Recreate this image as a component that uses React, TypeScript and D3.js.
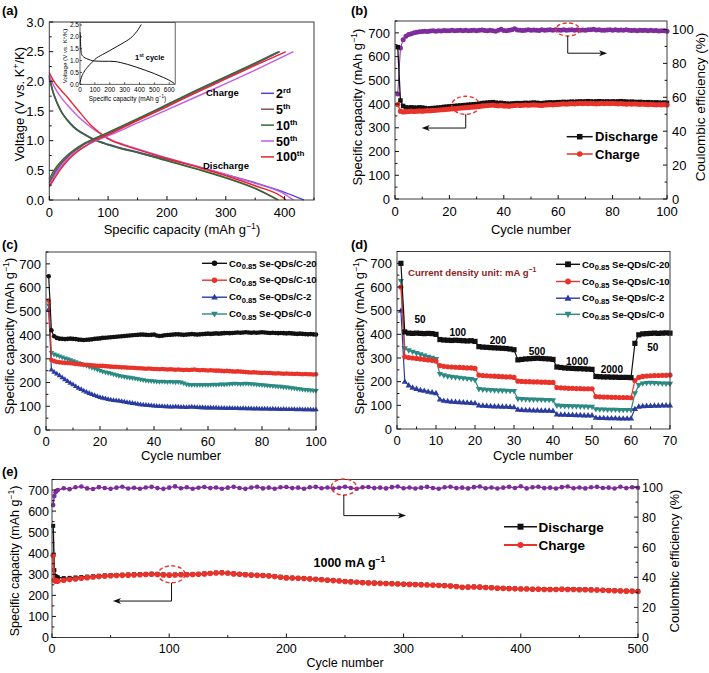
import React from 'react';
import * as d3 from 'd3';

const FONT = "'Liberation Sans', Arial, Helvetica, sans-serif";
const BLACK = '#111111';
const RED = '#e8322a';
const BLUE = '#2b3ca0';
const TEAL = '#2c8a84';
const PURPLE = '#7e2c9c';
const FRAME = '#3c3c3c';

type P = [number, number];

// ---------------- (a) galvanostatic profiles ----------------
const aLabels = ['2', '5', '10', '50', '100'];
const aSups = ['rd', 'th', 'th', 'th', 'th'];
const aColors = ['#5b40d8', '#8c5050', '#2f6b36', '#c35ce2', '#e8262a'];

const dis2: P[] = [[0,2.08],[3,1.95],[6,1.83],[10,1.72],[15,1.6],[20,1.5],[30,1.36],[40,1.25],[50,1.17],[60,1.11],[75,1.03],[100,0.94],[125,0.87],[150,0.81],[200,0.69],[250,0.57],[300,0.43],[350,0.29],[400,0.13],[433,0]];
const dis5: P[] = [[0,2.05],[3,1.93],[6,1.82],[10,1.71],[15,1.59],[20,1.49],[30,1.35],[40,1.24],[50,1.16],[60,1.1],[75,1.02],[100,0.93],[125,0.86],[150,0.8],[200,0.67],[250,0.53],[300,0.38],[350,0.2],[390,0]];
const dis10: P[] = [[0,2.1],[3,1.96],[6,1.84],[10,1.72],[15,1.6],[20,1.5],[30,1.35],[40,1.24],[50,1.16],[60,1.1],[75,1.02],[100,0.93],[125,0.86],[150,0.8],[200,0.66],[250,0.52],[300,0.37],[350,0.19],[388,0]];
const dis50: P[] = [[0,2.1],[5,1.98],[10,1.88],[20,1.73],[30,1.61],[40,1.5],[50,1.4],[60,1.31],[70,1.23],[80,1.16],[90,1.1],[100,1.04],[125,0.94],[150,0.86],[200,0.71],[250,0.57],[300,0.43],[350,0.28],[400,0.1],[415,0]];
const dis100: P[] = [[0,2.15],[5,2.05],[10,1.97],[20,1.85],[30,1.74],[40,1.62],[50,1.5],[60,1.38],[70,1.27],[80,1.18],[90,1.1],[100,1.03],[125,0.93],[150,0.85],[200,0.7],[250,0.56],[300,0.41],[350,0.24],[400,0.02],[402,0]];

const chg2: P[] = [[0,0.28],[5,0.37],[10,0.46],[20,0.6],[30,0.71],[40,0.8],[50,0.87],[60,0.94],[75,1.01],[100,1.12],[150,1.35],[200,1.59],[250,1.83],[300,2.06],[350,2.29],[392,2.5]];
const chg5: P[] = [[0,0.3],[5,0.4],[10,0.49],[20,0.62],[30,0.73],[40,0.81],[50,0.88],[60,0.95],[75,1.02],[100,1.13],[150,1.36],[200,1.6],[250,1.84],[300,2.07],[350,2.3],[388,2.49]];
const chg10: P[] = [[0,0.35],[5,0.45],[10,0.53],[20,0.65],[30,0.75],[40,0.83],[50,0.9],[60,0.96],[75,1.03],[100,1.14],[150,1.37],[200,1.61],[250,1.85],[300,2.08],[350,2.31],[390,2.5]];
const chg50: P[] = [[0,0.25],[5,0.33],[10,0.42],[20,0.56],[30,0.68],[40,0.77],[50,0.84],[60,0.9],[75,0.98],[100,1.08],[150,1.3],[200,1.52],[250,1.74],[300,1.96],[350,2.19],[415,2.5]];
const chg100: P[] = [[0,0.22],[5,0.3],[10,0.38],[20,0.53],[30,0.65],[40,0.75],[50,0.83],[60,0.9],[75,0.99],[100,1.1],[150,1.34],[200,1.57],[250,1.81],[300,2.04],[350,2.27],[402,2.5]];

const aDischarge = [dis2, dis5, dis10, dis50, dis100];
const aCharge = [chg2, chg5, chg10, chg50, chg100];

const inDis1: P[] = [[0,2.2],[2,2.1],[4,1.7],[7,1.4],[12,1.25],[25,1.15],[45,1.08],[70,1.02],[100,0.98],[150,0.97],[200,0.97],[235,0.96],[270,0.92],[320,0.84],[380,0.72],[440,0.59],[500,0.45],[560,0.29],[600,0.17],[635,0.03]];
const inChg1: P[] = [[0,0.08],[10,0.3],[25,0.5],[50,0.72],[80,0.92],[100,1.05],[150,1.25],[200,1.42],[250,1.6],[300,1.78],[350,2.0],[390,2.3],[412,2.52]];

// ---------------- (b) cycling at low rate ----------------
const bDischarge = [
  640,415,392,386,385,386,385,384,386,385,
  383,381,382,383,384,385,386,388,389,390,
  391,392,393,394,395,396,397,398,399,400,
  402,404,405,406,407,408,406,404,405,403,
  402,401,402,403,404,403,404,405,404,405,
  406,405,404,403,405,406,407,406,407,408,
  408,409,408,409,410,409,410,411,410,411,
  412,411,410,411,412,411,410,411,410,411,
  410,411,412,411,410,409,410,409,408,409,
  408,407,408,407,406,407,406,405,406,405];
const bCharge = [
  398,370,367,368,369,370,369,370,371,370,
  371,372,372,373,374,375,376,377,378,379,
  380,381,382,383,384,385,386,387,388,389,
  390,392,393,394,395,396,394,393,395,392,
  392,391,393,394,395,394,395,396,395,396,
  397,396,395,394,396,397,398,397,398,399,
  400,401,400,401,402,401,402,403,402,403,
  402,403,402,401,402,403,402,403,402,403,
  402,401,402,401,400,401,400,401,400,399,
  400,399,398,399,398,397,398,397,398,396];
const bCE = [
  62,89,94,96,97,97.5,98,98.3,98.6,98.8,
  99,98.8,99.1,99.2,99.0,99.3,99.1,99.4,99.2,99.3,
  99.5,99.2,99.4,99.6,99.3,99.5,99.2,99.4,99.6,99.3,
  99.5,99.7,99.4,99.2,99.5,99.3,98.9,99.6,100.2,99.4,
  99.3,99.6,99.8,100.4,99.7,99.5,99.4,99.6,99.8,99.5,
  99.7,99.6,99.4,99.8,99.5,99.7,99.9,99.6,99.8,99.7,
  99.6,99.8,99.5,99.7,99.9,99.6,99.8,99.5,99.7,99.6,
  99.8,99.9,100.1,99.7,99.8,99.6,99.5,99.7,99.9,99.6,
  99.8,99.5,99.7,99.6,99.8,99.5,99.4,99.6,99.3,99.5,
  99.4,99.6,99.3,99.5,99.2,99.4,99.1,99.3,99.2,99.0];

// ---------------- (c) samples cycling ----------------
const sampleNames = ['-20', '-10', '-2', '-0'];
const c20 = [
  648,420,395,388,385,384,383,384,385,384,
  383,381,380,379,380,381,382,384,385,386,
  388,389,390,391,392,393,394,395,396,397,
  398,399,400,401,402,402,401,400,401,402,
  398,396,397,399,400,401,402,403,403,402,
  401,402,403,404,403,402,403,404,405,406,
  405,406,407,406,407,408,409,408,409,410,
  411,410,411,412,411,410,411,410,411,412,
  411,410,409,410,409,408,409,408,407,408,
  407,406,405,406,405,404,403,404,403,402];
const c10 = [
  545,295,290,287,285,284,283,282,281,280,
  278,277,276,275,275,274,273,272,271,270,
  270,269,268,267,266,266,265,264,264,263,
  262,262,261,260,260,259,258,259,258,257,
  257,256,257,256,255,256,255,254,255,254,
  253,254,253,254,255,253,252,253,252,251,
  252,251,250,250,249,248,249,248,247,246,
  247,246,245,244,243,242,243,242,241,240,
  241,240,240,239,238,239,238,237,238,237,
  237,236,237,236,235,236,235,235,234,235];
const c2 = [
  510,255,245,238,230,222,214,206,199,192,
  185,178,172,166,161,156,151,147,143,139,
  136,133,130,128,126,125,124,122,120,118,
  116,114,112,110,108,107,106,105,104,103,
  102,101,101,100,100,99,99,100,99,98,
  98,97,98,99,98,97,96,96,95,95,
  95,94,94,93,93,93,92,93,92,92,
  92,91,92,91,91,91,90,91,90,90,
  90,90,89,90,89,89,88,89,88,88,
  88,88,87,88,87,87,87,87,86,87];
const c0 = [
  525,325,318,314,310,306,302,298,294,290,
  286,282,278,274,270,266,262,258,254,250,
  246,243,240,237,234,231,228,226,224,222,
  220,218,216,214,212,210,208,207,206,205,
  204,203,204,203,202,203,202,201,202,200,
  196,192,190,189,190,189,190,189,190,189,
  190,191,190,191,192,191,192,193,194,195,
  194,193,194,195,194,193,192,191,190,189,
  188,187,186,185,184,183,182,180,179,178,
  176,175,173,172,170,169,168,167,166,165];

// ---------------- (d) rate capability ----------------
const rateSteps = ['50', '100', '200', '500', '1000', '2000', '50'];
const rateLabelCycle = [5.9, 15.6, 25.9, 35.9, 46.2, 55.1, 65.6];
const rateLabelLevel = [448, 393, 359, 312, 270, 237, 328];
const d20 = [
  700,410,405,404,405,404,403,404,403,400,
  378,376,375,374,375,374,373,372,373,370,
  348,346,345,344,343,342,341,340,338,335,
  292,294,296,297,298,299,298,297,296,294,
  262,260,258,257,256,255,255,254,253,252,
  222,221,220,220,219,219,218,218,218,217,
  362,398,402,403,404,405,404,405,406,405];
const d10 = [
  600,305,302,300,298,296,294,292,290,287,
  268,265,263,262,261,260,259,258,258,256,
  228,226,225,224,223,222,221,220,220,218,
  202,201,200,200,199,199,198,198,197,197,
  175,174,173,172,172,171,171,170,170,170,
  137,136,135,135,134,134,133,133,133,132,
  205,218,222,224,225,226,226,227,227,228];
const d2 = [
  500,200,185,175,170,165,162,158,155,152,
  125,120,118,116,115,114,113,112,111,110,
  100,99,98,97,96,96,95,95,94,93,
  82,81,80,80,79,79,78,78,78,77,
  62,61,61,60,60,59,59,58,58,58,
  48,47,47,46,46,46,45,45,45,45,
  85,95,97,98,98,99,99,100,100,100];
const d0 = [
  625,340,332,326,320,315,310,305,300,295,
  232,226,222,220,218,216,214,212,210,206,
  168,166,165,164,163,162,162,161,160,160,
  127,126,125,124,124,123,123,122,122,121,
  98,97,96,96,95,95,94,94,93,93,
  83,82,82,81,81,81,80,80,80,80,
  150,185,192,194,195,194,193,192,191,190];

// ---------------- (e) long cycling at 1000 mA/g ----------------
const eCycles = [1, 2, 3, 4].concat(d3.range(5, 501, 5));
const eDischarge = [
  530,320,292,287,285,
  282,283,285,287,289,291,293,295,296,297,
  298,299,300,301,302,303,302,300,298,299,
  300,300,301,302,304,306,308,309,307,304,
  302,300,298,297,296,294,291,288,285,284,
  283,282,280,278,276,274,272,270,268,266,
  264,262,261,260,259,258,257,256,255,254,
  253,252,251,250,249,248,246,244,240,241,
  242,241,239,238,236,235,234,233,232,232,
  231,231,230,230,230,231,230,230,229,229,
  228,227,226,225,224,223,222,222,221];
const eCharge = [
  390,272,268,267,268,
  272,275,278,281,284,287,289,291,293,294,
  295,296,297,298,299,300,299,297,296,297,
  298,298,299,300,302,304,306,307,305,302,
  300,298,296,295,294,292,289,286,283,282,
  281,280,278,276,274,272,270,268,266,264,
  262,260,259,258,257,256,255,254,253,252,
  251,250,249,248,247,246,244,242,238,239,
  240,239,237,236,234,233,232,231,230,230,
  229,229,228,228,228,229,228,228,227,227,
  226,225,224,223,222,221,220,219,218];
const eCE = [
  88,94,96.5,97.5,98,
  99.2,98.6,99.8,100.3,99.1,98.7,99.9,99.4,98.8,99.6,
  100.2,99.0,99.5,98.9,99.7,100.1,99.3,98.8,99.6,100.4,
  99.2,99.8,98.9,99.5,100.0,99.3,99.7,98.9,99.6,100.1,
  99.4,98.8,99.7,100.2,99.1,99.6,98.9,99.8,100.0,99.3,
  99.6,98.9,99.8,100.1,99.2,99.7,99.0,99.5,100.2,99.4,
  98.9,99.8,100.0,99.3,99.6,99.1,99.9,100.3,99.2,99.7,
  99.0,99.6,100.1,99.4,98.9,99.8,100.2,99.3,99.6,99.1,
  99.9,100.3,99.2,99.7,99.0,99.6,100.1,99.4,100.5,99.1,
  99.8,100.2,99.3,99.6,99.0,99.9,100.3,99.2,99.7,99.1,
  99.8,100.1,99.4,99.6,99.0,100.2,99.3,99.8,99.5];

// ================= helpers =================
type Sc = d3.ScaleLinear<number, number>;

function pathOf(xs: Sc, ys: Sc, pts: P[], smooth = false) {
  const g = d3.line<P>().x(d => xs(d[0])).y(d => ys(d[1]));
  if (smooth) g.curve(d3.curveMonotoneX);
  return g(pts) || '';
}

function Marker({ type, x, y, s, color }: any) {
  if (type === 'circle') return <circle cx={x} cy={y} r={s / 2} fill={color} />;
  if (type === 'square') return <rect x={x - s / 2} y={y - s / 2} width={s} height={s} fill={color} />;
  if (type === 'up') return <path d={`M${x},${y - s * 0.62}L${x + s * 0.6},${y + s * 0.42}L${x - s * 0.6},${y + s * 0.42}Z`} fill={color} />;
  return <path d={`M${x},${y + s * 0.62}L${x + s * 0.6},${y - s * 0.42}L${x - s * 0.6},${y - s * 0.42}Z`} fill={color} />;
}

function Series({ xs, ys, xv, yv, color, marker, size, lw = 1.3 }: any) {
  const pts: P[] = xv.map((c: number, i: number) => [c, yv[i]] as P);
  return (
    <g>
      <path d={pathOf(xs, ys, pts)} fill="none" stroke={color} strokeWidth={lw} />
      {marker && pts.map((p, i) => <Marker key={i} type={marker} x={xs(p[0])} y={ys(p[1])} s={size} color={color} />)}
    </g>
  );
}

function Frame({ xs, ys }: { xs: Sc; ys: Sc }) {
  const [x0, x1] = xs.range();
  const [y0, y1] = ys.range();
  return <rect x={x0} y={y1} width={x1 - x0} height={y0 - y1} fill="none" stroke={FRAME} strokeWidth={1} />;
}

function BottomAxis({ xs, ys, major, minor, fmt, fs, len = 4, gap = 3 }: any) {
  const y0 = ys.range()[0];
  return (
    <g>
      {major.map((v: number) => <line key={'M' + v} x1={xs(v)} x2={xs(v)} y1={y0} y2={y0 - len} stroke={BLACK} />)}
      {minor.map((v: number) => <line key={'m' + v} x1={xs(v)} x2={xs(v)} y1={y0} y2={y0 - len * 0.6} stroke={BLACK} />)}
      {major.map((v: number) => <text key={'t' + v} x={xs(v)} y={y0 + fs + gap} textAnchor="middle" fontSize={fs}>{fmt(v)}</text>)}
    </g>
  );
}

function LeftAxis({ xs, ys, major, minor, fmt, fs, len = 4, gap = 4 }: any) {
  const x0 = xs.range()[0];
  return (
    <g>
      {major.map((v: number) => <line key={'M' + v} x1={x0} x2={x0 + len} y1={ys(v)} y2={ys(v)} stroke={BLACK} />)}
      {minor.map((v: number) => <line key={'m' + v} x1={x0} x2={x0 + len * 0.6} y1={ys(v)} y2={ys(v)} stroke={BLACK} />)}
      {major.map((v: number) => <text key={'t' + v} x={x0 - gap} y={ys(v) + fs * 0.36} textAnchor="end" fontSize={fs}>{fmt(v)}</text>)}
    </g>
  );
}

function RightAxis({ xs, ys, major, minor, fmt, fs, len = 4, gap = 4 }: any) {
  const x1 = xs.range()[1];
  return (
    <g>
      {major.map((v: number) => <line key={'M' + v} x1={x1} x2={x1 - len} y1={ys(v)} y2={ys(v)} stroke={BLACK} />)}
      {minor.map((v: number) => <line key={'m' + v} x1={x1} x2={x1 - len * 0.6} y1={ys(v)} y2={ys(v)} stroke={BLACK} />)}
      {major.map((v: number) => <text key={'t' + v} x={x1 + gap} y={ys(v) + fs * 0.36} textAnchor="start" fontSize={fs}>{fmt(v)}</text>)}
    </g>
  );
}

function CapTitle({ x, y, fs, rot = true }: any) {
  return (
    <text transform={`translate(${x},${y})${rot ? ' rotate(-90)' : ''}`} textAnchor="middle" fontSize={fs}>
      Specific capacity (mAh g<tspan dy={-fs * 0.38} fontSize={fs * 0.68}>−1</tspan><tspan dy={fs * 0.38}>)</tspan>
    </text>
  );
}

function RotTitle({ x, y, fs, children }: any) {
  return <text transform={`translate(${x},${y}) rotate(-90)`} textAnchor="middle" fontSize={fs}>{children}</text>;
}

function CoLabel({ x, y, name, fs }: any) {
  return (
    <text x={x} y={y} fontSize={fs} fontWeight="bold">
      Co<tspan dy={fs * 0.3} fontSize={fs * 0.8}>0.85</tspan><tspan dy={-fs * 0.3}> Se-QDs/C{name}</tspan>
    </text>
  );
}

function Ellipse({ cx, cy, rx, ry }: any) {
  return <ellipse cx={cx} cy={cy} rx={rx} ry={ry} fill="none" stroke={RED} strokeWidth={1.4} strokeDasharray="4,2.5" />;
}

function ElbowArrow({ x, y0, y1, x2 }: any) {
  const dir = x2 > x ? 1 : -1;
  return (
    <g>
      <path d={`M${x},${y0}V${y1}H${x2 - dir * 6}`} fill="none" stroke={BLACK} strokeWidth={1} />
      <path d={`M${x2},${y1}L${x2 - dir * 8},${y1 - 3}L${x2 - dir * 6},${y1}L${x2 - dir * 8},${y1 + 3}Z`} fill={BLACK} />
    </g>
  );
}

const f0 = d3.format('d');
const f1 = d3.format('.1f');
const capMajor = d3.range(0, 701, 100);
const capMinor = d3.range(50, 751, 100);
const ceMajor = d3.range(0, 101, 20);
const ceMinor = d3.range(10, 101, 20);

// ================= panels =================
function PanelA() {
  const xs = d3.scaleLinear().domain([0, 450]).range([49.3, 314]);
  const ys = d3.scaleLinear().domain([0, 3]).range([200, 22]);
  const ix = d3.scaleLinear().domain([0, 640]).range([80, 175.2]);
  const iy = d3.scaleLinear().domain([0, 2.6]).range([84.3, 22.6]);
  return (
    <g>
      {aDischarge.map((c, i) => <path key={'d' + i} d={pathOf(xs, ys, c, true)} fill="none" stroke={aColors[i]} strokeWidth={1.4} />)}
      {aCharge.map((c, i) => <path key={'c' + i} d={pathOf(xs, ys, c, true)} fill="none" stroke={aColors[i]} strokeWidth={1.4} />)}
      <Frame xs={xs} ys={ys} />
      <BottomAxis xs={xs} ys={ys} major={d3.range(0, 401, 100)} minor={d3.range(50, 451, 100)} fmt={f0} fs={13} gap={4} />
      <LeftAxis xs={xs} ys={ys} major={d3.range(0, 3.01, 0.5)} minor={d3.range(0.25, 3, 0.5)} fmt={f1} fs={13} gap={5} />
      <text x={182} y={234} textAnchor="middle" fontSize={13}>
        Specific capacity (mAh g<tspan dy={-5} fontSize={8.8}>−1</tspan><tspan dy={5}>)</tspan>
      </text>
      <RotTitle x={24} y={104} fs={13}>
        Voltage (V vs. K<tspan dy={-5} fontSize={8.8}>+</tspan><tspan dy={5}>/K)</tspan>
      </RotTitle>
      {/* inset */}
      <rect x={80} y={22.6} width={95.2} height={61.7} fill="#fff" stroke={FRAME} strokeWidth={0.8} />
      <path d={pathOf(ix, iy, inDis1, true)} fill="none" stroke={BLACK} strokeWidth={1} />
      <path d={pathOf(ix, iy, inChg1, true)} fill="none" stroke={BLACK} strokeWidth={1} />
      {d3.range(0, 601, 100).map(v => (
        <g key={'ix' + v}>
          <line x1={ix(v)} x2={ix(v)} y1={84.3} y2={82.3} stroke={BLACK} strokeWidth={0.7} />
          <text x={ix(v)} y={91.5} textAnchor="middle" fontSize={6.5}>{v}</text>
        </g>
      ))}
      {d3.range(0, 2.51, 0.5).map(v => (
        <g key={'iy' + v}>
          <line x1={80} x2={82} y1={iy(v)} y2={iy(v)} stroke={BLACK} strokeWidth={0.7} />
          <text x={79} y={iy(v) + 2.3} textAnchor="end" fontSize={6.5}>{f1(v)}</text>
        </g>
      ))}
      <text x={127.5} y={100.5} textAnchor="middle" fontSize={6.4}>
        Specific capacity (mAh g<tspan dy={-2.5} fontSize={4.5}>−1</tspan><tspan dy={2.5}>)</tspan>
      </text>
      <RotTitle x={67} y={56} fs={6.2}>
        Voltage (V vs. K<tspan dy={-2.4} fontSize={4.4}>+</tspan><tspan dy={2.4}>/K)</tspan>
      </RotTitle>
      <text x={135} y={59.5} fontSize={7.5} fontWeight="bold">1<tspan dy={-2.8} fontSize={5}>st</tspan><tspan dy={2.8}> cycle</tspan></text>
      {/* labels */}
      <text x={206} y={96} fontSize={9.5} fontWeight="bold">Charge</text>
      <text x={203} y={168.5} fontSize={9.5} fontWeight="bold">Discharge</text>
      {aLabels.map((l, i) => {
        const y = 93.3 + i * 15.9;
        return (
          <g key={'lg' + i}>
            <line x1={261} x2={274} y1={y} y2={y} stroke={aColors[i]} strokeWidth={1.5} />
            <text x={276} y={y + 4.5} fontSize={12.5} fontWeight="bold">{l}<tspan dy={-5} fontSize={8}>{aSups[i]}</tspan></text>
          </g>
        );
      })}
    </g>
  );
}

function PanelB() {
  const xs = d3.scaleLinear().domain([0, 100]).range([395, 667]);
  const ys = d3.scaleLinear().domain([0, 750]).range([199, 21]);
  const yr = d3.scaleLinear().domain([0, 105]).range([199, 21]);
  const cyc = d3.range(1, 101);
  return (
    <g>
      <Series xs={xs} ys={yr} xv={cyc} yv={bCE} color={PURPLE} marker="circle" size={5} lw={1} />
      <Series xs={xs} ys={ys} xv={cyc} yv={bDischarge} color={BLACK} marker="square" size={4.5} lw={1.3} />
      <Series xs={xs} ys={ys} xv={cyc} yv={bCharge} color={RED} marker="circle" size={5.2} lw={1.3} />
      <Frame xs={xs} ys={ys} />
      <BottomAxis xs={xs} ys={ys} major={d3.range(0, 101, 20)} minor={d3.range(10, 100, 20)} fmt={f0} fs={13} gap={4} />
      <LeftAxis xs={xs} ys={ys} major={capMajor} minor={capMinor} fmt={f0} fs={13} gap={5} />
      <RightAxis xs={xs} ys={yr} major={ceMajor} minor={ceMinor} fmt={f0} fs={13} gap={5} />
      <text x={531} y={234} textAnchor="middle" fontSize={13}>Cycle number</text>
      <CapTitle x={362} y={107} fs={13} />
      <RotTitle x={705} y={107} fs={13.5}>Coulombic efficiency (%)</RotTitle>
      <Ellipse cx={xs(63.5)} cy={yr(100)} rx={12} ry={6.5} />
      <ElbowArrow x={xs(63.5)} y0={yr(100) + 6.5} y1={yr(86)} x2={xs(78)} />
      <Ellipse cx={xs(26)} cy={ys(395)} rx={14} ry={9} />
      <ElbowArrow x={xs(26)} y0={ys(395) + 9} y1={ys(299)} x2={xs(9.8)} />
      {[['Discharge', BLACK, 'square', 136.7], ['Charge', RED, 'circle', 154]].map(([t, c, m, y]: any) => (
        <g key={t}>
          <line x1={566.7} x2={592.7} y1={y} y2={y} stroke={c} strokeWidth={1.5} />
          <Marker type={m} x={579.7} y={y} s={5.5} color={c} />
          <text x={595} y={y + 4.6} fontSize={13} fontWeight="bold">{t}</text>
        </g>
      ))}
    </g>
  );
}

const sampleColors = [BLACK, RED, BLUE, TEAL];
const sampleMarkers = ['circle', 'circle', 'up', 'down'];

function PanelC() {
  const xs = d3.scaleLinear().domain([0, 100]).range([46, 316]);
  const ys = d3.scaleLinear().domain([0, 750]).range([430, 252]);
  const cyc = d3.range(1, 101);
  const sets = [c20, c10, c2, c0];
  const ly = [263.3, 280.2, 297.2, 314];
  return (
    <g>
      {[3, 2, 1, 0].map(i => <Series key={i} xs={xs} ys={ys} xv={cyc} yv={sets[i]} color={sampleColors[i]} marker={sampleMarkers[i]} size={4.6} lw={1.2} />)}
      <Frame xs={xs} ys={ys} />
      <BottomAxis xs={xs} ys={ys} major={d3.range(0, 101, 20)} minor={d3.range(10, 100, 20)} fmt={f0} fs={13} gap={3} />
      <LeftAxis xs={xs} ys={ys} major={capMajor} minor={capMinor} fmt={f0} fs={13} gap={5} />
      <text x={181} y={460} textAnchor="middle" fontSize={13}>Cycle number</text>
      <CapTitle x={14} y={336} fs={13} />
      {sampleNames.map((n, i) => (
        <g key={n}>
          <line x1={202} x2={227} y1={ly[i]} y2={ly[i]} stroke={sampleColors[i]} strokeWidth={1.4} />
          <Marker type={sampleMarkers[i]} x={214.5} y={ly[i]} s={5.5} color={sampleColors[i]} />
          <CoLabel x={229} y={ly[i] + 3.2} name={n} fs={9.5} />
        </g>
      ))}
    </g>
  );
}

function PanelD() {
  const xs = d3.scaleLinear().domain([0, 70]).range([397, 670]);
  const ys = d3.scaleLinear().domain([0, 750]).range([429, 251.5]);
  const cyc = d3.range(1, 71);
  const sets = [d20, d10, d2, d0];
  const ly = [264.3, 281.5, 298.2, 314.3];
  return (
    <g>
      {[3, 2, 1, 0].map(i => <Series key={i} xs={xs} ys={ys} xv={cyc} yv={sets[i]} color={sampleColors[i]} marker={i === 0 ? 'square' : sampleMarkers[i]} size={5.2} lw={1.2} />)}
      <Frame xs={xs} ys={ys} />
      <BottomAxis xs={xs} ys={ys} major={d3.range(0, 71, 10)} minor={d3.range(5, 70, 10)} fmt={f0} fs={13} gap={3} />
      <LeftAxis xs={xs} ys={ys} major={capMajor} minor={capMinor} fmt={f0} fs={13} gap={5} />
      <text x={533} y={460} textAnchor="middle" fontSize={13}>Cycle number</text>
      <CapTitle x={364} y={336} fs={13} />
      <text x={408} y={275.5} fontSize={9.6} fontWeight="bold" fill="#8e1f1f">
        Current density unit: mA g<tspan dy={-3.8} fontSize={6.8}>−1</tspan>
      </text>
      {rateSteps.map((r, i) => (
        <text key={i} x={xs(rateLabelCycle[i])} y={ys(rateLabelLevel[i])} textAnchor="middle" fontSize={10} fontWeight="bold">{r}</text>
      ))}
      {sampleNames.map((n, i) => (
        <g key={n}>
          <line x1={556} x2={580} y1={ly[i]} y2={ly[i]} stroke={sampleColors[i]} strokeWidth={1.4} />
          <Marker type={i === 0 ? 'square' : sampleMarkers[i]} x={568} y={ly[i]} s={5.8} color={sampleColors[i]} />
          <CoLabel x={582} y={ly[i] + 3.2} name={n} fs={9.5} />
        </g>
      ))}
    </g>
  );
}

function PanelE() {
  const xs = d3.scaleLinear().domain([0, 500]).range([52, 638]);
  const ys = d3.scaleLinear().domain([0, 750]).range([637.5, 479.5]);
  const yr = d3.scaleLinear().domain([0, 105]).range([637.5, 479.5]);
  return (
    <g>
      <Series xs={xs} ys={yr} xv={eCycles} yv={eCE} color={PURPLE} marker="circle" size={4.6} lw={1.4} />
      <Series xs={xs} ys={ys} xv={eCycles} yv={eDischarge} color={BLACK} marker="square" size={4} lw={1.4} />
      <Series xs={xs} ys={ys} xv={eCycles} yv={eCharge} color={RED} marker="circle" size={5.6} lw={2} />
      <Frame xs={xs} ys={ys} />
      <BottomAxis xs={xs} ys={ys} major={d3.range(0, 501, 100)} minor={d3.range(50, 500, 100)} fmt={f0} fs={12.5} gap={3} />
      <LeftAxis xs={xs} ys={ys} major={capMajor} minor={capMinor} fmt={f0} fs={12.5} gap={3} />
      <RightAxis xs={xs} ys={yr} major={ceMajor} minor={ceMinor} fmt={f0} fs={12.5} gap={4} />
      <text x={345} y={667} textAnchor="middle" fontSize={12.5}>Cycle number</text>
      <CapTitle x={18.5} y={561} fs={12.5} />
      <RotTitle x={679} y={561} fs={13}>Coulombic efficiency (%)</RotTitle>
      <text x={313.5} y={567} fontSize={12.5} fontWeight="bold">
        1000 mA g<tspan dy={-5} fontSize={8.5}>−1</tspan>
      </text>
      <Ellipse cx={xs(102)} cy={ys(300)} rx={13.5} ry={8.5} />
      <ElbowArrow x={xs(102)} y0={ys(300) + 8.5} y1={ys(173)} x2={xs(52)} />
      <Ellipse cx={xs(249)} cy={yr(100)} rx={12.5} ry={8} />
      <ElbowArrow x={xs(249)} y0={yr(100) + 8} y1={yr(81)} x2={xs(302)} />
      {[['Discharge', BLACK, 'square', 526.7, 1.5], ['Charge', RED, 'circle', 545, 2.2]].map(([t, c, m, y, w]: any) => (
        <g key={t}>
          <line x1={504} x2={537} y1={y} y2={y} stroke={c} strokeWidth={w} />
          <Marker type={m} x={520.5} y={y} s={6} color={c} />
          <text x={538.5} y={y + 4.8} fontSize={13.5} fontWeight="bold">{t}</text>
        </g>
      ))}
    </g>
  );
}

export default function App() {
  return (
    <svg width={709} height={673} viewBox="0 0 709 673" style={{ position: 'absolute', left: 0, top: 0, background: '#fff' }} fontFamily={FONT}>
      <rect x={0} y={0} width={709} height={673} fill="#fff" />
      <PanelA />
      <PanelB />
      <PanelC />
      <PanelD />
      <PanelE />
      <text x={2} y={15} fontSize={13} fontWeight="bold">(a)</text>
      <text x={351} y={15} fontSize={13} fontWeight="bold">(b)</text>
      <text x={2} y={249} fontSize={13} fontWeight="bold">(c)</text>
      <text x={351} y={249} fontSize={13} fontWeight="bold">(d)</text>
      <text x={2} y={476} fontSize={13} fontWeight="bold">(e)</text>
    </svg>
  );
}
